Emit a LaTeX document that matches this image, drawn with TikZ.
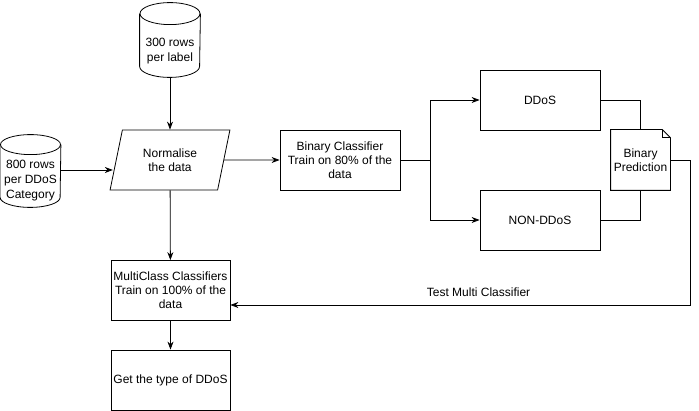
\documentclass[tikz,border=0pt]{standalone}
\usepackage{fontspec}
\setmainfont{Liberation Sans}
\usetikzlibrary{shapes.geometric,arrows.meta,positioning,calc}

\begin{document}
\begin{tikzpicture}[x=1pt,y=-1pt,line width=0.8pt,>={Stealth[length=8pt,width=6pt]},
      every node/.style={font=\fontsize{12}{14}\selectfont,align=center},
      box/.style={draw,minimum width=120pt,minimum height=60pt,inner sep=2pt},
      db/.style={font=\fontsize{12}{15}\selectfont,minimum width=60pt,minimum height=52pt,inner sep=0pt},
      inputbox/.style={draw,trapezium,trapezium left angle=73,trapezium right angle=107,trapezium stretches=true,minimum width=120pt,minimum height=60pt,inner sep=0pt}]
      \useasboundingbox (0,0) rectangle (699,411);
      \node[db] (rows) at (170,51) {300 rows\\per label};
      \node[db] (ddoscat) at (30.5,181) {800 rows\\per DDoS\\Category};
      \node[inputbox] (norm) at (170,160) {Normalise\\the data};
      \node[box] (binary) at (340,160) {Binary Classifier\\Train on 80\% of the\\data};
      \node[box] (ddos) at (540,100) {DDoS};
      \node[box] (nonddos) at (540,220) {NON-DDoS};
      \node[minimum width=59pt,minimum height=60pt,inner sep=0pt] (pred) at (640.5,160) {Binary\\Prediction};
      \node[box,minimum width=119pt] (multi) at (170.5,290.5) {MultiClass Classifiers\\Train on 100\% of the\\data};
      \node[box,minimum width=119pt] (type) at (170.5,380) {Get the type of DDoS};
      % cylinder outlines round the two data nodes
      \foreach \n/\r in {rows/11,ddoscat/10}{
        \draw ([yshift=\r pt]\n.north west) -- ([yshift=\r pt]\n.south west) arc[start angle=180,end angle=360,x radius=30pt,y radius=\r pt] -- ([yshift=\r pt]\n.north east);
        \draw ([yshift=\r pt]\n.north) ellipse [x radius=30pt,y radius=\r pt];
      }
      % note outline with folded corner
      \draw (pred.south west) -- (pred.north west) -- ([xshift=-8pt]pred.north east) -- ([yshift=-8pt]pred.north east) -- (pred.south east) -- cycle;
      \draw ([xshift=-8pt]pred.north east) -- ([xshift=-8pt,yshift=-8pt]pred.north east) -- ([yshift=-8pt]pred.north east);
      \coordinate (split) at (430,160);
      \coordinate (test) at (690,305);
      \draw[->] (rows) -- (norm);
      \draw[->] ([yshift=11pt]ddoscat.east) -- ($(norm.west |- ddoscat.east)+(-3,-11)$);
      \draw[->] (norm) -- (binary);
      \draw (binary) -- (split);
      \draw[->] (split) |- (ddos);
      \draw[->] (split) |- (nonddos);
      \draw (ddos.east) -| (pred.north);
      \draw (nonddos.east) -| (pred.south);
      \draw[->] (pred.east) -| (test) -- node[pos=0.46,above=5pt]{Test Multi Classifier} (test -| multi.east);
      \draw[->] (norm) -- (multi);
      \draw[->] (multi) -- (type);
\end{tikzpicture}
\end{document}
